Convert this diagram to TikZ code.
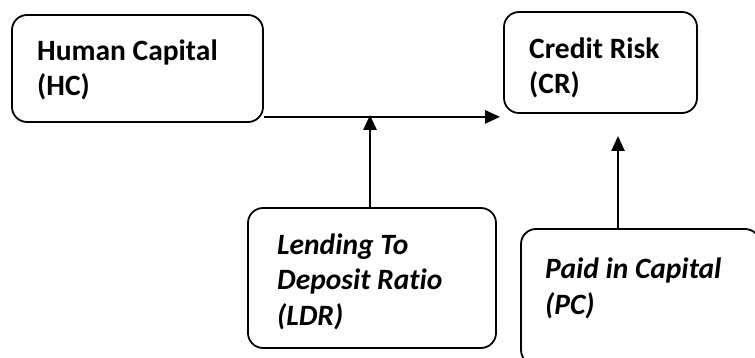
\documentclass[tikz,border=0pt]{standalone}
\usepackage{fontspec}
\setmainfont{Carlito}[Ligatures={NoCommon}]
\usetikzlibrary{arrows.meta}
\begin{document}
\begin{tikzpicture}[x=1pt,y=-1pt,
  box/.style={draw=black, line width=1.8pt, rounded corners=15pt, inner sep=0pt},
  % anchored at the baseline of the last line
  txt/.style={anchor=base west, align=left, inner sep=0pt,
    font=\fontsize{29.5}{35.5}\selectfont\bfseries},
  itxt/.style={txt, font=\fontsize{29.5}{35.5}\selectfont\bfseries\itshape},
  link/.style={line width=2.6pt, -{Triangle[length=15pt,width=13pt]}}]
\useasboundingbox (0,0) rectangle (755,358);

% boxes (the last one runs past the lower right edge)
\node[box, minimum width=251pt, minimum height=107pt] (HC) at (137.5,68.5) {};
\node[box, minimum width=193pt, minimum height=101pt] (CR) at (600.5,62.5) {};
\node[box, minimum width=248pt, minimum height=140pt] (LDR) at (372,278) {};
\node[box, minimum width=239pt, minimum height=136pt] (PC) at (640.5,297) {};

% box texts
\node[txt] (HCt) at (37,96) {Human Capital\\(HC)};
\node[txt] (CRt) at (529,94) {Credit Risk\\(CR)};
\node[itxt] (LDRt) at (277,325) {Lending To\\Deposit Ratio\\(LDR)};
\node[itxt] (PCt) at (545,314) {Paid in Capital\\(PC)};

% connectors
\coordinate (mid) at (370,115);
\coordinate (pctip) at (618,136);
\draw[link] ([yshift=6pt]HC.south east) -- ([xshift=-3pt,yshift=-3pt]CR.south west);
\draw[link] (LDR.north -| mid) -- (mid);
\draw[link] (PC.north -| pctip) -- (pctip);
\end{tikzpicture}
\end{document}
